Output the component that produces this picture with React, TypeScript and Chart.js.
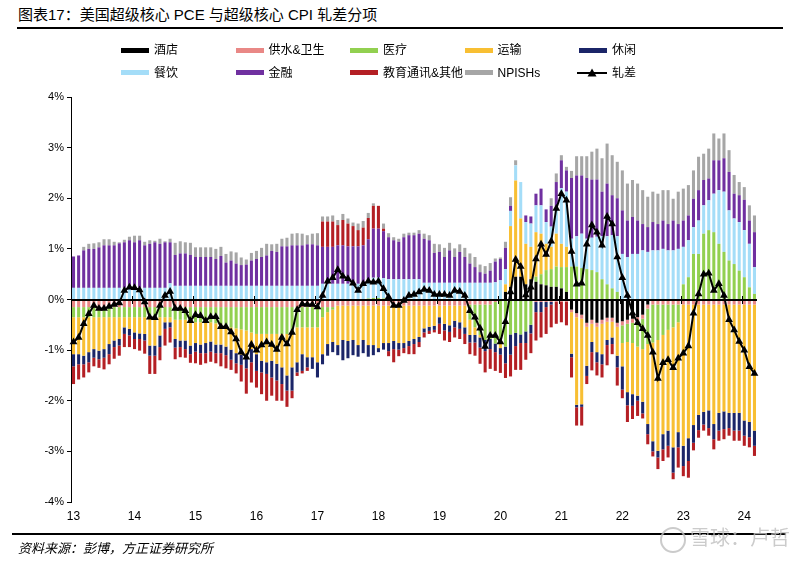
import React, { useEffect, useRef } from "react";
import { Chart, registerables } from "chart.js";

Chart.register(...registerables);

// ---------- categories ----------
const yearLabels = ["13", "14", "15", "16", "17", "18", "19", "20", "21", "22", "23", "24"];
const monthCount = 135; // Jan 2013 - Mar 2024
const categories: string[] = [];
for (let i = 0; i < monthCount; i++) {
  categories.push(`20${yearLabels[Math.floor(i / 12)]}-${String((i % 12) + 1).padStart(2, "0")}`);
}
const yTicks = [-4, -3, -2, -1, 0, 1, 2, 3, 4];

// ---------- series (percentage points), one row per year ----------
const hotel = [
  0, 0, 0, 0, 0, 0, 0, 0, 0, 0, 0, 0,
  0, 0, 0, 0, 0, 0, 0, 0, 0, 0, 0, 0,
  0, 0, 0, 0, 0, 0, 0, 0, 0, 0, 0, 0,
  0, 0, 0, 0, 0, 0, 0, 0, 0, 0, 0, 0,
  0, 0, 0, 0, 0, 0, 0, 0, 0, 0, 0, 0,
  0, 0, 0, 0, 0, 0, 0, 0, 0, 0, 0, 0,
  0, 0, 0, 0, 0, 0, 0, 0, 0, 0, 0, 0,
  0, 0.15, 0.25, 0.45, 0.45, 0.3, 0.4, 0.35, 0.3, 0.28, 0.25, 0.25,
  0.22, 0.15, -0.2, -0.27, -0.3, -0.46, -0.4, -0.46, -0.4, -0.36, -0.36, -0.46,
  -0.43, -0.4, -0.38, -0.35, -0.3, -0.1, 0, 0, 0, 0, 0, 0,
  0, 0, 0, 0, 0, 0, 0, 0, 0, 0, 0, 0,
  0, 0, 0,
];

const water = [
  -0.15, -0.15, -0.15, -0.15, -0.15, -0.15, -0.15, -0.15, -0.15, -0.15, -0.15, -0.15,
  -0.15, -0.15, -0.15, -0.15, -0.15, -0.15, -0.15, -0.15, -0.15, -0.15, -0.15, -0.15,
  -0.15, -0.15, -0.15, -0.15, -0.15, -0.15, -0.15, -0.15, -0.15, -0.15, -0.15, -0.15,
  -0.15, -0.15, -0.15, -0.15, -0.15, -0.15, -0.15, -0.15, -0.15, -0.15, -0.15, -0.15,
  -0.15, -0.15, -0.15, -0.15, -0.12, -0.12, -0.12, -0.12, -0.12, -0.12, -0.12, -0.12,
  -0.12, -0.12, -0.12, -0.12, -0.12, -0.12, -0.12, -0.12, -0.12, -0.12, -0.12, -0.12,
  -0.12, -0.12, -0.12, -0.12, -0.12, -0.12, -0.1, -0.1, -0.1, -0.1, -0.1, -0.05,
  -0.03, -0.03, -0.03, -0.03, -0.03, -0.03, -0.03, -0.05, -0.05, -0.05, -0.05, -0.05,
  -0.05, -0.05, -0.05, -0.08, -0.08, -0.08, -0.08, -0.08, -0.08, -0.08, -0.08, -0.08,
  -0.08, -0.08, -0.08, -0.08, -0.08, -0.08, -0.1, -0.1, -0.1, -0.1, -0.1, -0.1,
  -0.1, -0.1, -0.1, -0.1, -0.1, -0.1, -0.1, -0.1, -0.1, -0.1, -0.1, -0.1,
  -0.1, -0.1, -0.1,
];

const medical = [
  -0.2, -0.2, -0.2, -0.2, -0.2, -0.2, -0.2, -0.2, -0.2, -0.2, -0.2, -0.2,
  -0.2, -0.2, -0.2, -0.2, -0.2, -0.2, -0.2, -0.2, -0.25, -0.25, -0.25, -0.25,
  -0.3, -0.3, -0.3, -0.3, -0.32, -0.34, -0.38, -0.4, -0.42, -0.44, -0.46, -0.5,
  -0.53, -0.53, -0.53, -0.53, -0.53, -0.53, -0.53, -0.53, -0.4, -0.4, -0.4, -0.4,
  -0.4, -0.2, -0.1, -0.05, 0, 0, 0, 0, 0, 0, 0.02, 0.03,
  0.03, 0.02, 0, 0, 0, 0, 0, 0, 0, 0, 0, 0,
  0, 0, 0, 0, 0, 0, -0.3, -0.45, -0.6, -0.7, -0.68, -0.82,
  -0.8, -0.9, -0.66, -0.63, -0.66, -0.6, -0.47, 0.1, 0.2, 0.3, 0.35, 0.4,
  0.42, 0.49, 0.65, 0.65, 0.62, 0.6, 0.58, 0.54, 0.4, 0.3, 0.22, 0.15,
  -0.35, -0.36, -0.4, -0.5, -0.6, -0.7, -0.75, -0.7, -0.6, -0.5, -0.45, -0.35,
  0.3, 0.44, 0.9, 0.9, 1.3, 1.37, 1.33, 1.1, 0.94, 0.77, 0.7, 0.57,
  0.44, 0.24, 0.11,
];

const transport = [
  -0.73, -0.73, -0.76, -0.69, -0.63, -0.66, -0.63, -0.53, -0.46, -0.43, -0.2, -0.23,
  -0.3, -0.32, -0.33, -0.56, -0.56, -0.36, -0.1, -0.1, -0.38, -0.41, -0.41, -0.51,
  -0.41, -0.44, -0.41, -0.38, -0.42, -0.4, -0.4, -0.44, -0.49, -0.5, -0.52, -0.33,
  -0.4, -0.53, -0.56, -0.53, -0.59, -0.66, -0.82, -0.66, -0.69, -0.53, -0.59, -0.59,
  -0.69, -0.73, -0.63, -0.64, -0.78, -0.68, -0.7, -0.68, -0.78, -0.68, -0.78, -0.78,
  -0.84, -0.74, -0.74, -0.7, -0.74, -0.74, -0.7, -0.66, -0.62, -0.45, -0.42, -0.4,
  -0.23, -0.36, -0.39, -0.3, -0.33, -0.43, -0.3, -0.15, -0.05, 0, 0, 0,
  -0.13, 0.15, 1.2, 1.9, 1.15, 0.8, 0.64, 0.88, 0.8, 0.52, 0.44, 0.65,
  0.46, 0.4, -0.82, -1.73, -1.69, -0.77, -0.36, -0.5, -0.6, -0.36, -0.31, -0.57,
  -0.46, -0.99, -1.01, -0.97, -1.04, -1.58, -1.95, -2.19, -1.96, -1.99, -2.37, -2.17,
  -2.79, -2.64, -2.38, -2.18, -2.12, -2.09, -2.36, -2.14, -2.11, -2.14, -2.14, -2.14,
  -2.29, -2.32, -2.49,
];

const leisure = [
  -0.24, -0.2, -0.17, -0.2, -0.17, -0.17, -0.17, -0.2, -0.13, -0.13, -0.13, -0.13,
  -0.13, -0.11, -0.13, -0.2, -0.2, -0.23, -0.13, -0.1, -0.17, -0.13, -0.17, -0.17,
  -0.17, -0.17, -0.2, -0.2, -0.17, -0.17, -0.17, -0.2, -0.2, -0.2, -0.23, -0.26,
  -0.33, -0.23, -0.23, -0.33, -0.33, -0.33, -0.3, -0.46, -0.2, -0.33, -0.2, -0.23,
  -0.3, -0.2, -0.23, -0.2, -0.2, -0.4, -0.34, -0.3, -0.23, -0.26, -0.23, -0.2,
  -0.08, -0.13, -0.16, -0.16, -0.13, -0.1, -0.1, -0.1, -0.1, -0.08, -0.08, -0.08,
  -0.13, -0.13, -0.13, -0.13, -0.13, -0.13, -0.15, -0.15, -0.2, -0.22, -0.2, -0.17,
  -0.13, -0.33, -0.4, -0.26, -0.17, -0.23, -0.17, -0.2, -0.2, -0.1, -0.05, 0,
  0, 0, -0.07, -0.05, -0.05, -0.2, -0.2, -0.2, -0.2, -0.1, -0.13, -0.23,
  -0.46, -0.26, -0.23, -0.1, -0.23, -0.2, -0.2, -0.13, -0.3, -0.3, -0.5, -0.3,
  -0.4, -0.45, -0.35, -0.3, -0.25, -0.35, -0.3, -0.35, -0.35, -0.3, -0.35, -0.35,
  -0.3, -0.3, -0.3,
];

const dining = [
  0.23, 0.23, 0.23, 0.23, 0.23, 0.23, 0.23, 0.23, 0.23, 0.23, 0.23, 0.23,
  0.23, 0.23, 0.23, 0.23, 0.23, 0.23, 0.23, 0.32, 0.27, 0.27, 0.27, 0.27,
  0.27, 0.27, 0.27, 0.27, 0.27, 0.27, 0.27, 0.27, 0.27, 0.27, 0.27, 0.27,
  0.27, 0.27, 0.27, 0.27, 0.27, 0.27, 0.27, 0.27, 0.27, 0.27, 0.27, 0.27,
  0.27, 0.31, 0.31, 0.31, 0.31, 0.31, 0.31, 0.31, 0.31, 0.31, 0.31, 0.4,
  0.4, 0.4, 0.4, 0.4, 0.4, 0.4, 0.4, 0.4, 0.4, 0.33, 0.33, 0.33,
  0.33, 0.33, 0.33, 0.33, 0.33, 0.33, 0.33, 0.33, 0.33, 0.33, 0.33, 0.34,
  0.38, 0.3, 0.3, 0.3, 0.72, 0.43, 0.46, 0.53, 0.56, 0.43, 0.4, 0.46,
  1.1, 1.09, 0.55, 0.6, 0.68, 0.6, 0.64, 0.7, 0.85, 0.95, 1.05, 1.1,
  0.9, 0.84, 0.9, 0.9, 0.97, 0.94, 0.97, 0.97, 1.0, 0.97, 0.97, 1.0,
  0.74, 0.73, 0.53, 0.66, 0.56, 0.59, 0.76, 1.06, 1.19, 0.99, 0.9, 0.96,
  0.93, 0.86, 0.53,
];

const finance = [
  0.62, 0.64, 0.74, 0.77, 0.77, 0.8, 0.84, 0.84, 0.84, 0.88, 0.9, 0.94,
  0.9, 0.94, 0.84, 0.87, 0.9, 0.87, 0.9, 0.81, 0.61, 0.64, 0.64, 0.61,
  0.57, 0.57, 0.57, 0.57, 0.53, 0.59, 0.46, 0.5, 0.44, 0.41, 0.42, 0.5,
  0.53, 0.57, 0.6, 0.69, 0.67, 0.78, 0.78, 0.8, 0.8, 0.8, 0.82, 0.82,
  0.8, 0.73, 0.73, 0.73, 0.76, 0.76, 0.74, 0.74, 0.74, 0.76, 0.86, 0.97,
  0.97, 0.93, 0.83, 0.77, 0.74, 0.83, 0.87, 0.87, 0.9, 0.87, 0.84, 0.59,
  0.61, 0.51, 0.64, 0.51, 0.61, 0.51, 0.38, 0.31, 0.21, 0.18, 0.24, 0.41,
  0.42, 0.42, 0.1, 0, 0, 0.13, 0.14, 0.23, 0.33, 0.25, 0.41, 0.56,
  0.55, 0.42, 1.2, 1.2, 1.15, 1.2, 1.15, 1.13, 0.88, 1.04, 0.79, 0.75,
  0.86, 0.72, 0.73, 0.66, 0.52, 0.49, 0.56, 0.52, 0.56, 0.52, 0.59, 0.49,
  0.52, 0.49, 0.56, 0.6, 0.5, 0.43, 0.66, 0.59, 0.66, 0.76, 0.49, 0.53,
  0.6, 0.46, 0.69,
];

const eduComm = [
  -0.35, -0.3, -0.26, -0.2, -0.17, -0.17, -0.23, -0.2, -0.23, -0.2, -0.26, -0.23,
  -0.2, -0.23, -0.26, -0.36, -0.36, -0.26, -0.33, -0.3, -0.23, -0.2, -0.17, -0.17,
  -0.23, -0.23, -0.2, -0.2, -0.2, -0.26, -0.26, -0.2, -0.2, -0.33, -0.5, -0.4,
  -0.33, -0.43, -0.53, -0.36, -0.4, -0.33, -0.32, -0.15, -0.07, -0.05, -0.07, 0,
  0, 0.5, 0.5, 0.5, 0.4, 0.5, 0.45, 0.4, 0.32, 0.35, 0.42, 0.45,
  0.45, 0.05, -0.1, -0.26, -0.13, -0.1, -0.16, -0.2, -0.1, -0.1, -0.06, -0.05,
  -0.2, -0.2, -0.2, -0.2, -0.2, -0.2, -0.23, -0.26, -0.32, -0.42, -0.39, -0.37,
  -0.36, -0.29, -0.43, -0.47, -0.53, -0.33, -0.39, -0.56, -0.5, -0.53, -0.45, -0.43,
  -0.4, -0.46, -0.4, -0.36, -0.37, -0.16, -0.36, -0.26, -0.26, -0.4, -0.2, -0.36,
  -0.17, -0.33, -0.26, -0.3, -0.1, -0.2, -0.1, -0.23, -0.23, -0.23, -0.13, -0.4,
  -0.2, -0.33, -0.15, -0.15, -0.12, -0.15, -0.2, -0.2, -0.2, -0.15, -0.2, -0.2,
  -0.2, -0.2, -0.2,
];

const npish = [
  0, 0, 0.07, 0.1, 0.11, 0.1, 0.12, 0.12, 0.07, 0.02, 0.05, 0.07,
  0.13, 0.09, 0.07, 0.07, 0.03, 0.1, 0.02, 0.07, 0.24, 0.24, 0.22, 0.24,
  0.19, 0.19, 0.19, 0.19, 0.2, 0.18, 0.17, 0.18, 0.22, 0.15, 0.1, 0.15,
  0.16, 0.18, 0.23, 0.13, 0.16, 0.15, 0.17, 0.23, 0.24, 0.23, 0.18, 0.21,
  0.24, 0.1, 0.1, 0.12, 0.1, 0.12, 0.1, 0.07, 0.13, 0.13, 0.1, 0.05,
  0, 0.1, 0.08, 0.06, 0.06, 0.07, 0.05, 0.05, 0.07, 0.1, 0.1, 0.18,
  0.15, 0.18, 0.15, 0.17, 0.15, 0.18, 0.2, 0.2, 0.15, 0.15, 0.15, 0.06,
  0.03, 0.12, 0.17, 0.1, 0, 0, 0, 0, 0, 0, 0.15, 0.17,
  0.1, 0.07, 0.14, 0.38, 0.38, 0.43, 0.55, 0.61, 0.66, 0.79, 0.79, 0.72,
  0.79, 0.73, 0.73, 0.73, 0.67, 0.6, 0.6, 0.6, 0.6, 0.67, 0.43, 0.64,
  0.63, 0.6, 0.56, 0.66, 0.52, 0.59, 0.53, 0.43, 0.49, 0.43, 0.37, 0.26,
  0.25, 0.3, 0.33,
];

const netGap = [
  -0.84, -0.75, -0.48, -0.28, -0.12, -0.18, -0.18, -0.14, -0.1, -0.07, 0.18, 0.24,
  0.23, 0.19, -0.05, -0.35, -0.36, -0.12, 0.08, 0.16, -0.18, -0.18, -0.22, -0.42,
  -0.3, -0.32, -0.42, -0.34, -0.34, -0.54, -0.54, -0.64, -0.78, -1.04, -1.14, -0.89,
  -1.0, -0.9, -0.84, -0.89, -0.99, -0.75, -0.88, -0.65, -0.2, -0.09, -0.1, -0.1,
  -0.15, 0.08, 0.36, 0.43, 0.59, 0.46, 0.41, 0.32, 0.18, 0.31, 0.36, 0.34,
  0.36, 0.21, 0.05, -0.12, -0.12, -0.02, 0.08, 0.1, 0.15, 0.2, 0.18, 0.1,
  0.1, 0.1, 0.08, 0.18, 0.16, 0.08, -0.22, -0.35, -0.57, -0.93, -0.71, -0.71,
  -0.84, -0.44, 0.15, 0.79, 0.65, 0.09, 0.24, 0.8, 1.09, 0.89, 1.15, 1.8,
  2.09, 1.96, 0.95, 0.3, 0.32, 1.09, 1.47, 1.33, 1.07, 1.64, 1.49, 0.84,
  0.43, 0.08, -0.27, -0.46, -0.58, -0.71, -1.04, -1.56, -1.25, -1.19, -1.35, -1.16,
  -1.06, -0.92, -0.27, 0.11, 0.5, 0.52, 0.18, 0.31, 0.08, -0.4, -0.6, -0.83,
  -1.0, -1.33, -1.46,
];

const barSeries = [
  { label: "酒店", data: hotel, color: "#000000" },
  { label: "供水&卫生", data: water, color: "#E98886" },
  { label: "医疗", data: medical, color: "#92D050" },
  { label: "运输", data: transport, color: "#F8BF33" },
  { label: "休闲", data: leisure, color: "#1B2568" },
  { label: "餐饮", data: dining, color: "#A4DDF8" },
  { label: "金融", data: finance, color: "#7030A0" },
  { label: "教育通讯&其他", data: eduComm, color: "#B41F24" },
  { label: "NPISHs", data: npish, color: "#A6A6A6" },
];
const lineLabel = "轧差";

const FONT = '"Liberation Sans", Arial, "Noto Sans CJK SC", sans-serif';

const zeroLinePlugin = {
  id: "zeroLine",
  beforeDatasetDraw(chart: any, args: any) {
    if (args.meta.type !== "line") return;
    const { ctx, chartArea, scales } = chart;
    const y0 = Math.round(scales.y.getPixelForValue(0));
    ctx.save();
    ctx.strokeStyle = "#000";
    ctx.lineWidth = 2;
    ctx.beginPath();
    ctx.moveTo(chartArea.left, y0);
    ctx.lineTo(chartArea.right, y0);
    ctx.stroke();
    ctx.lineWidth = 1;
    for (let k = 1; k < yearLabels.length; k++) {
      const idx = k * 12;
      if (idx >= categories.length) break;
      const x =
        Math.round((scales.x.getPixelForValue(idx) + scales.x.getPixelForValue(idx - 1)) / 2) + 0.5;
      ctx.beginPath();
      ctx.moveTo(x, y0 - 4);
      ctx.lineTo(x, y0 + 4);
      ctx.stroke();
    }
    ctx.restore();
  },
};

function ChartCanvas() {
  const ref = useRef<HTMLCanvasElement | null>(null);
  useEffect(() => {
    if (!ref.current) return;
    const datasets: any[] = barSeries.map((s) => ({
      type: "bar",
      label: s.label,
      data: s.data,
      backgroundColor: s.color,
      borderWidth: 0,
      stack: "parts",
      order: 1,
      barPercentage: 0.6,
      categoryPercentage: 1,
    }));
    datasets.push({
      type: "line",
      label: lineLabel,
      data: netGap,
      borderColor: "#000",
      borderWidth: 2,
      pointStyle: "triangle",
      pointRadius: 4.5,
      pointBackgroundColor: "#000",
      pointBorderColor: "#000",
      pointBorderWidth: 0,
      tension: 0,
      stack: "net",
      order: 0,
    });
    const chart = new Chart(ref.current, {
      type: "bar",
      data: { labels: categories, datasets },
      options: {
        animation: false,
        responsive: false,
        devicePixelRatio: 1,
        events: [],
        layout: { padding: { left: 31, right: 43, top: 97, bottom: 40 } },
        plugins: { legend: { display: false }, tooltip: { enabled: false }, title: { display: false } },
        scales: {
          x: {
            type: "category",
            stacked: true,
            offset: true,
            grid: { display: false, drawTicks: false },
            border: { display: false },
            ticks: {
              autoSkip: false,
              maxRotation: 0,
              minRotation: 0,
              padding: 7,
              color: "#000",
              font: { family: FONT, size: 12 },
              callback: (_v: any, i: number) => (i % 12 === 0 ? yearLabels[i / 12] : ""),
            },
            afterFit: (s: any) => {
              s.height = 25;
            },
          },
          y: {
            stacked: true,
            min: yTicks[0],
            max: yTicks[yTicks.length - 1],
            grid: {
              drawOnChartArea: false,
              drawTicks: true,
              tickLength: 4,
              tickColor: "#000",
            },
            border: { display: true, color: "#000", width: 1 },
            ticks: {
              stepSize: 1,
              padding: 3,
              color: "#000",
              font: { family: FONT, size: 11 },
              callback: (v: any) => `${v}%`,
            },
            afterFit: (s: any) => {
              s.width = 40;
            },
          },
        },
      },
      plugins: [zeroLinePlugin],
    } as any);
    return () => chart.destroy();
  }, []);
  return (
    <canvas
      ref={ref}
      width={800}
      height={567}
      style={{ position: "absolute", left: 0, top: 0, width: 800, height: 567, display: "block" }}
    />
  );
}

const legendItems = [
  ...barSeries.map((s) => ({ label: s.label, color: s.color, line: false })),
  { label: lineLabel, color: "#000", line: true },
];

export default function App() {
  return (
    <div
      style={{
        position: "absolute",
        left: 0,
        top: 0,
        width: 800,
        height: 567,
        background: "#fff",
        overflow: "hidden",
        fontFamily: FONT,
        color: "#000",
      }}
    >
      <div style={{ position: "absolute", left: 18, top: 5, fontSize: 15, lineHeight: "20px", whiteSpace: "nowrap" }}>
        图表17：美国超级核心 PCE 与超级核心 CPI 轧差分项
      </div>
      <div style={{ position: "absolute", left: 17, top: 27, width: 766, height: 2, background: "#000" }} />
      <ChartCanvas />
      {legendItems.map((it, k) => {
        const col = k % 5;
        const row = Math.floor(k / 5);
        const left = 121 + col * 114.5;
        const cy = 50 + row * 22.5;
        return (
          <div key={it.label} style={{ position: "absolute", left, top: cy - 9, height: 18, whiteSpace: "nowrap" }}>
            {it.line ? (
              <svg width={30} height={12} style={{ position: "absolute", left: -2, top: 3 }}>
                <line x1={0} y1={6} x2={30} y2={6} stroke="#000" strokeWidth={2} />
                <polygon points="15,1.5 19.5,9.5 10.5,9.5" fill="#000" />
              </svg>
            ) : (
              <div style={{ position: "absolute", left: 0, top: 6.5, width: 28, height: 5, background: it.color }} />
            )}
            <span style={{ position: "absolute", left: 33, top: 0, fontSize: 12, lineHeight: "18px" }}>{it.label}</span>
          </div>
        );
      })}
      <div style={{ position: "absolute", left: 12, top: 533, width: 774, height: 2, background: "#000" }} />
      <div
        style={{
          position: "absolute",
          left: 18,
          top: 540,
          fontSize: 13,
          lineHeight: "18px",
          fontStyle: "italic",
          whiteSpace: "nowrap",
        }}
      >
        资料来源：彭博，方正证券研究所
      </div>
      <div
        style={{
          position: "absolute",
          left: 660,
          top: 527,
          width: 22,
          height: 22,
          borderRadius: 13,
          border: "2px solid rgba(190,190,190,0.8)",
        }}
      />
      <div
        style={{
          position: "absolute",
          left: 690,
          top: 524,
          fontSize: 20,
          lineHeight: "28px",
          color: "rgba(190,190,190,0.8)",
          whiteSpace: "nowrap",
        }}
      >
        雪球：卢哲
      </div>
    </div>
  );
}
